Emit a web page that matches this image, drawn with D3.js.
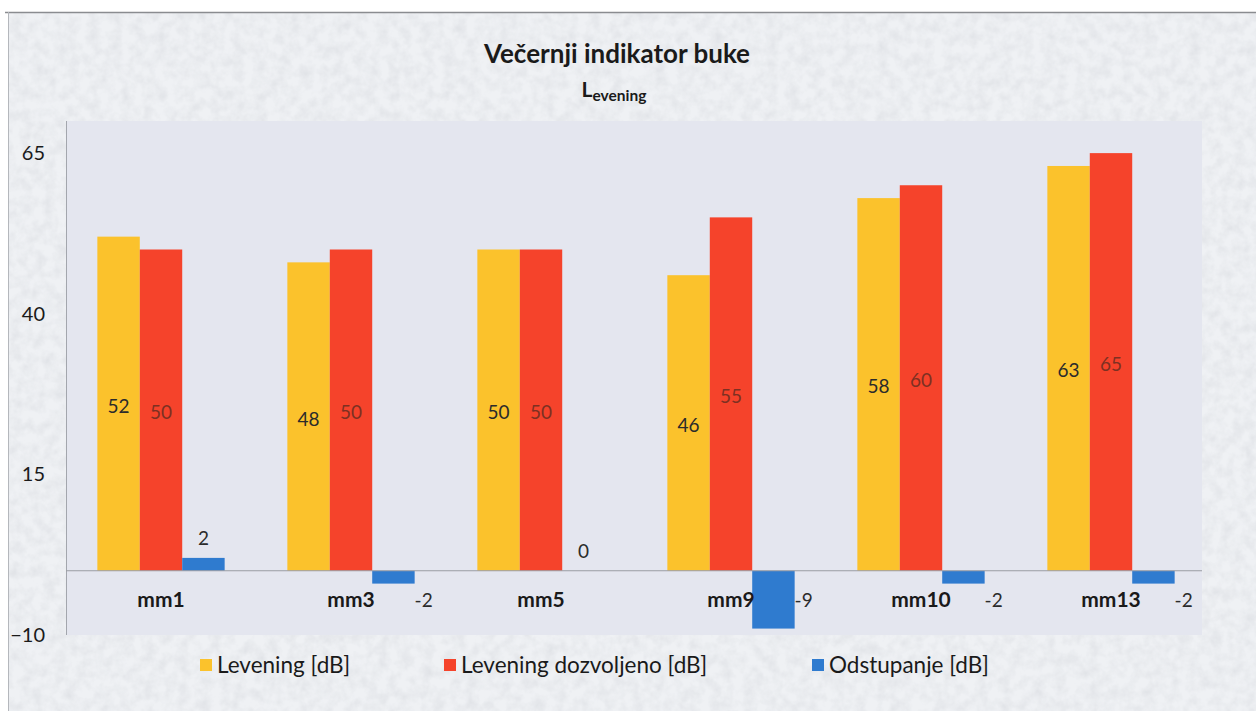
<!DOCTYPE html>
<html>
<head>
<meta charset="utf-8">
<script src="https://cdn.jsdelivr.net/npm/d3@7"></script>
<style>
  body { margin: 0; background: #ffffff; }
  svg { display: block; }
</style>
</head>
<body>
<div id="chart"></div>
<script>
// data
const categories = ["mm1", "mm3", "mm5", "mm9", "mm10", "mm13"];
const seriesNames = ["Levening [dB]", "Levening dozvoljeno [dB]", "Odstupanje [dB]"];
const levening = [52, 48, 50, 46, 58, 63];
const dozvoljeno = [50, 50, 50, 55, 60, 65];
const odstupanje = [2, -2, 0, -9, -2, -2];
const yTicks = [-10, 15, 40, 65];

const colors = ["#fbc22c", "#f5432b", "#2f7bcf"];
const labelColors = ["#2b2b2b", "#7d3022", "#2b2b2b"];

const width = 1256, height = 711;
const plot = { left: 66, right: 1206, top: 121, bottom: 635 };
const font = "Lato, 'Open Sans', sans-serif";

const svg = d3.select("#chart").append("svg")
  .attr("width", width)
  .attr("height", height);

// speckled scan-like background
const defs = svg.append("defs");
const noise = defs.append("filter").attr("id", "speckle")
  .attr("x", 0).attr("y", 0).attr("width", "100%").attr("height", "100%");
noise.append("feTurbulence")
  .attr("type", "fractalNoise")
  .attr("baseFrequency", 0.09)
  .attr("numOctaves", 3)
  .attr("seed", 4)
  .attr("result", "n");
noise.append("feColorMatrix")
  .attr("in", "n")
  .attr("type", "matrix")
  .attr("values", "0 0 0 0 0.62  0 0 0 0 0.64  0 0 0 0 0.68  0 0 0 -1.6 1.05");

svg.append("rect").attr("width", width).attr("height", height).attr("fill", "#ffffff");
svg.append("rect").attr("x", 8).attr("y", 12).attr("width", width - 8).attr("height", height - 12)
  .attr("fill", "#eff1f4");
svg.append("rect").attr("x", 8).attr("y", 12).attr("width", width - 8).attr("height", height - 12)
  .attr("filter", "url(#speckle)").attr("opacity", 0.45);

// frame lines
svg.append("line").attr("x1", 5).attr("x2", width).attr("y1", 12.5).attr("y2", 12.5)
  .attr("stroke", "#8a8c90").attr("stroke-width", 1.5);
svg.append("line").attr("x1", 8.5).attr("x2", 8.5).attr("y1", 12).attr("y2", height)
  .attr("stroke", "#b4b7bc").attr("stroke-width", 1);

// plot area
svg.append("rect")
  .attr("x", plot.left).attr("y", plot.top)
  .attr("width", 1202 - plot.left).attr("height", plot.bottom - plot.top)
  .attr("fill", "#e4e6ef");

// scales
const x = d3.scaleBand()
  .domain(categories)
  .range([plot.left, plot.right])
  .paddingInner(0.33)
  .paddingOuter(0.165);

const xs = d3.scaleBand()
  .domain(d3.range(3))
  .range([0, x.bandwidth()]);

const y = d3.scaleLinear()
  .domain([-10, 70])
  .range([plot.bottom, plot.top]);

const rows = categories.map((c, i) => ({
  cat: c,
  values: [levening[i], dozvoljeno[i], odstupanje[i]]
}));

// axis line
svg.append("line")
  .attr("x1", plot.left + 0.5).attr("x2", plot.left + 0.5)
  .attr("y1", plot.top).attr("y2", plot.bottom)
  .attr("stroke", "#a3a6ad");

// y tick labels
const yAxis = d3.axisLeft(y).tickValues(yTicks).tickSize(0).tickPadding(0);
const yg = svg.append("g").attr("transform", "translate(45,0)").call(yAxis);
yg.select(".domain").remove();
yg.selectAll("text")
  .attr("font-family", font)
  .attr("font-size", 20)
  .attr("fill", "#1a1a1a");

// bars
const groups = svg.append("g").selectAll("g")
  .data(rows)
  .join("g")
  .attr("transform", d => `translate(${x(d.cat)},0)`);

groups.selectAll("rect")
  .data(d => d.values.map((v, k) => ({ v, k })))
  .join("rect")
  .attr("x", d => xs(d.k))
  .attr("width", xs.bandwidth())
  .attr("y", d => y(Math.max(0, d.v)))
  .attr("height", d => Math.abs(y(d.v) - y(0)))
  .attr("fill", d => colors[d.k]);

// zero line
svg.append("line")
  .attr("x1", plot.left).attr("x2", 1202)
  .attr("y1", y(0)).attr("y2", y(0))
  .attr("stroke", "#9a9ca3").attr("stroke-width", 1);

// value labels
groups.selectAll("text.val")
  .data(d => d.values.map((v, k) => ({ v, k })))
  .join("text")
  .attr("class", "val")
  .attr("font-family", font)
  .attr("font-size", 19)
  .attr("fill", d => labelColors[d.k])
  .attr("text-anchor", "middle")
  .attr("x", d => {
    if (d.k === 2 && d.v < 0) return xs(d.k) + xs.bandwidth() + 9;
    return xs(d.k) + xs.bandwidth() / 2;
  })
  .attr("y", d => {
    if (d.k < 2) return (y(d.v) + y(0)) / 2 + 9;
    if (d.v >= 0) return y(d.v) - 13;
    return y(0) + 36;
  })
  .text(d => d.v);

// category labels
const xAxis = d3.axisBottom(x).tickSize(0).tickPadding(0);
const xg = svg.append("g").attr("transform", `translate(0,${y(0) + 21})`).call(xAxis);
xg.select(".domain").remove();
xg.selectAll("text")
  .attr("font-family", font)
  .attr("font-size", 21)
  .attr("font-weight", "bold")
  .attr("fill", "#1a1a1a");

// title
svg.append("text")
  .attr("x", 617).attr("y", 63)
  .attr("text-anchor", "middle")
  .attr("font-family", font)
  .attr("font-size", 26)
  .attr("font-weight", "bold")
  .attr("fill", "#1a1a1a")
  .text("Večernji indikator buke");

const sub = svg.append("text")
  .attr("x", 614).attr("y", 97)
  .attr("text-anchor", "middle")
  .attr("font-family", font)
  .attr("font-weight", "bold")
  .attr("fill", "#1a1a1a");
sub.append("tspan").attr("font-size", 21).text("L");
sub.append("tspan").attr("font-size", 15.5).attr("dy", 4).text("evening");

// legend
const legendX = [200, 444, 812];
const legend = svg.append("g").selectAll("g")
  .data(seriesNames)
  .join("g")
  .attr("transform", (d, i) => `translate(${legendX[i]},659)`);
legend.append("rect")
  .attr("width", 12).attr("height", 12)
  .attr("fill", (d, i) => colors[i]);
legend.append("text")
  .attr("x", 17).attr("y", 14)
  .attr("font-family", font)
  .attr("font-size", 22.5)
  .attr("fill", "#1a1a1a")
  .text(d => d);
</script>
</body>
</html>
